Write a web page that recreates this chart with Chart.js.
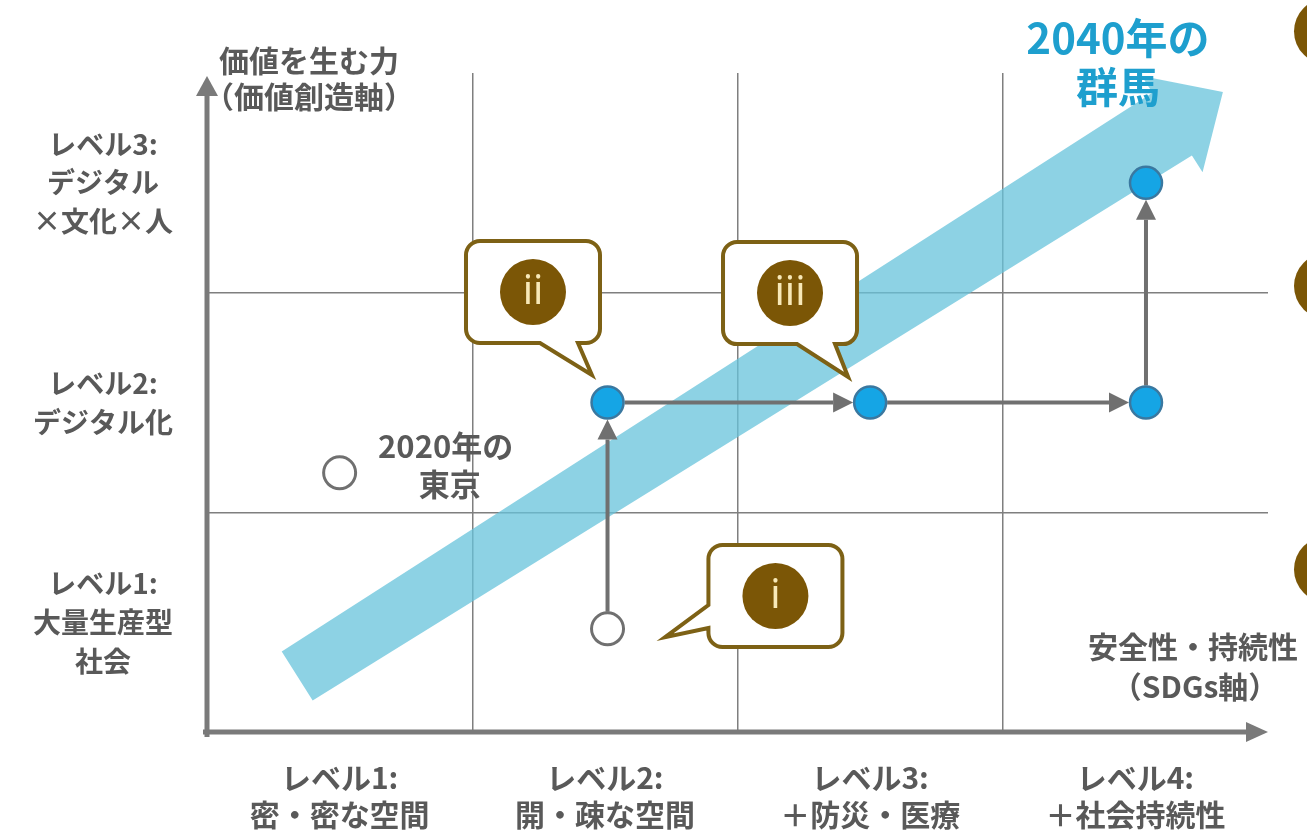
<!DOCTYPE html>
<html lang="ja">
<head>
<meta charset="utf-8">
<script src="https://cdn.jsdelivr.net/npm/chart.js@4.4.1/dist/chart.umd.min.js"></script>
<style>
html, body { margin: 0; padding: 0; background: #fff; }
</style>
</head>
<body>
<canvas id="chart" width="1307" height="835"></canvas>
<script>
var xLabels = [['レベル1:', '密・密な空間'], ['レベル2:', '開・疎な空間'], ['レベル3:', '＋防災・医療'], ['レベル4:', '＋社会持続性']];
var yLabels = [['レベル1:', '大量生産型', '社会'], ['レベル2:', 'デジタル化'], ['レベル3:', 'デジタル', '×文化×人']];

// white circles: 2020 Tokyo, and start of the route
var openX = [0.5, 1.51];
var openY = [1.18, 0.47];
// blue circles along the route
var blueX = [1.51, 2.5, 3.54, 3.54];
var blueY = [1.5, 1.5, 1.5, 2.5];
// route followed by the grey arrows
var routeX = [1.51, 1.51, 2.5, 3.54, 3.54];
var routeY = [0.47, 1.5, 1.5, 1.5, 2.5];
// big light blue arrow: tail and tip
var bandX = [0.34, 3.83];
var bandY = [0.255, 2.913];

// speech bubbles
var calloutText = ['i', 'ii', 'iii'];
var calloutX = [2.143, 1.229, 2.198];
var calloutY = [0.619, 2.003, 1.998];
var tailX = [1.727, 1.451, 2.417];
var tailY = [0.432, 1.625, 1.616];
var tailSide = ['left', 'bottom', 'bottom'];

// brown markers cut off at the right edge
var sideMarkY = [3.19, 2.03, 0.74];

var textGrey = '#595959';
var jpFont = '"Noto Sans CJK JP", "Noto Sans", sans-serif';

function arrowLine(ctx, x1, y1, x2, y2, w, headL, headW, color) {
    var a = Math.atan2(y2 - y1, x2 - x1);
    var bx = x2 - headL * Math.cos(a), by = y2 - headL * Math.sin(a);
    ctx.strokeStyle = color;
    ctx.lineWidth = w;
    ctx.beginPath();
    ctx.moveTo(x1, y1);
    ctx.lineTo(bx, by);
    ctx.stroke();
    ctx.fillStyle = color;
    ctx.beginPath();
    ctx.moveTo(x2, y2);
    ctx.lineTo(bx + headW * Math.sin(a), by - headW * Math.cos(a));
    ctx.lineTo(bx - headW * Math.sin(a), by + headW * Math.cos(a));
    ctx.closePath();
    ctx.fill();
}

function drawCallout(ctx, cx, cy, tx, ty, side, text) {
    var w = 134, h = 102, r = 14;
    var l = cx - w / 2, t = cy - h / 2, rt = cx + w / 2, b = cy + h / 2;
    ctx.beginPath();
    ctx.moveTo(l + r, t);
    ctx.lineTo(rt - r, t);
    ctx.arcTo(rt, t, rt, t + r, r);
    ctx.lineTo(rt, b - r);
    ctx.arcTo(rt, b, rt - r, b, r);
    if (side === 'bottom') {
        ctx.lineTo(cx + 45, b);
        ctx.lineTo(tx, ty);
        ctx.lineTo(cx + 7, b);
    }
    ctx.lineTo(l + r, b);
    ctx.arcTo(l, b, l, b - r, r);
    if (side === 'left') {
        ctx.lineTo(l, cy + 32);
        ctx.lineTo(tx, ty);
        ctx.lineTo(l, cy + 9);
    }
    ctx.lineTo(l, t + r);
    ctx.arcTo(l, t, l + r, t, r);
    ctx.closePath();
    ctx.fillStyle = '#ffffff';
    ctx.fill();
    ctx.strokeStyle = '#7d6115';
    ctx.lineWidth = 4;
    ctx.lineJoin = 'miter';
    ctx.stroke();

    ctx.fillStyle = '#7b5606';
    ctx.beginPath();
    ctx.arc(cx, cy, 33, 0, Math.PI * 2);
    ctx.fill();
    ctx.fillStyle = '#f8e9b8';
    ctx.font = '40px "Noto Sans", sans-serif';
    ctx.textAlign = 'center';
    ctx.textBaseline = 'middle';
    ctx.fillText(text, cx, cy + 1);
}

var decorPlugin = {
    id: 'decor',
    beforeDatasetsDraw: function(chart) {
        var ctx = chart.ctx, xs = chart.scales.x, ys = chart.scales.y, area = chart.chartArea;
        ctx.save();

        // big arrow
        var sx = xs.getPixelForValue(bandX[0]), sy = ys.getPixelForValue(bandY[0]);
        var tx = xs.getPixelForValue(bandX[1]), ty = ys.getPixelForValue(bandY[1]);
        var len = Math.hypot(tx - sx, ty - sy);
        var ux = (tx - sx) / len, uy = (ty - sy) / len;
        var nx = -uy, ny = ux;
        var hw0 = 29, hw1 = 37, hh = 57, hl = 60;
        var bx = tx - ux * hl, by = ty - uy * hl;
        ctx.fillStyle = 'rgba(103, 195, 219, 0.75)';
        ctx.beginPath();
        ctx.moveTo(sx + nx * hw0, sy + ny * hw0);
        ctx.lineTo(bx + nx * hw1, by + ny * hw1);
        ctx.lineTo(bx + nx * hh, by + ny * hh);
        ctx.lineTo(tx, ty);
        ctx.lineTo(bx - nx * hh, by - ny * hh);
        ctx.lineTo(bx - nx * hw1, by - ny * hw1);
        ctx.lineTo(sx - nx * hw0, sy - ny * hw0);
        ctx.closePath();
        ctx.fill();

        // route arrows
        for (var i = 0; i < routeX.length - 1; i++) {
            var x1 = xs.getPixelForValue(routeX[i]), y1 = ys.getPixelForValue(routeY[i]);
            var x2 = xs.getPixelForValue(routeX[i + 1]), y2 = ys.getPixelForValue(routeY[i + 1]);
            var d = Math.hypot(x2 - x1, y2 - y1);
            var ex = (x2 - x1) / d, ey = (y2 - y1) / d;
            arrowLine(ctx, x1 + ex * 17, y1 + ey * 17, x2 - ex * 17, y2 - ey * 17, 4, 20, 10, '#707070');
        }

        // axes with arrow heads
        arrowLine(ctx, area.left, area.bottom + 5, area.left, area.top + 3, 5, 20, 11, '#7a7a7a');
        arrowLine(ctx, area.left - 4, area.bottom, area.right, area.bottom, 5, 22, 10, '#7a7a7a');
        ctx.restore();
    },
    afterDatasetsDraw: function(chart) {
        var ctx = chart.ctx, xs = chart.scales.x, ys = chart.scales.y, area = chart.chartArea;
        ctx.save();
        for (var i = 0; i < calloutText.length; i++) {
            drawCallout(ctx,
                xs.getPixelForValue(calloutX[i]), ys.getPixelForValue(calloutY[i]),
                xs.getPixelForValue(tailX[i]), ys.getPixelForValue(tailY[i]),
                tailSide[i], calloutText[i]);
        }

        ctx.textAlign = 'center';
        ctx.textBaseline = 'middle';

        // axis titles
        ctx.fillStyle = textGrey;
        ctx.font = 'bold 30px ' + jpFont;
        ctx.fillText('価値を生む力', area.left + 102, area.top - 12);
        ctx.fillText('（価値創造軸）', area.left + 102, area.top + 24);
        ctx.fillText('安全性・持続性', area.right - 75, area.bottom - 85);
        ctx.fillText('（SDGs軸）', area.right - 73, area.bottom - 45);

        // 2020 Tokyo label next to its circle
        var px = xs.getPixelForValue(openX[0]), py = ys.getPixelForValue(openY[0]);
        ctx.font = 'bold 31px ' + jpFont;
        ctx.fillText('2020年の', px + 106, py - 27);
        ctx.fillText('東京', px + 110, py + 11);

        // 2040 Gunma label near the big arrow tip
        var tx = xs.getPixelForValue(bandX[1]), ty = ys.getPixelForValue(bandY[1]);
        ctx.fillStyle = '#1e9fce';
        ctx.font = 'bold 42px ' + jpFont;
        ctx.fillText('2040年の', tx - 105, ty - 54);
        ctx.fillText('群馬', tx - 105, ty - 5);

        // brown markers at the right edge
        ctx.fillStyle = '#7b5606';
        for (var j = 0; j < sideMarkY.length; j++) {
            ctx.beginPath();
            ctx.arc(chart.width + 20, ys.getPixelForValue(sideMarkY[j]), 33, 0, Math.PI * 2);
            ctx.fill();
        }
        ctx.restore();
    }
};

function gridColor(maxLine) {
    return function(c) {
        var v = c.tick ? c.tick.value : 0;
        if (Number.isInteger(v) && v >= 1 && v <= maxLine) return '#7f7f7f';
        return 'rgba(0,0,0,0)';
    };
}

var ctx = document.getElementById('chart').getContext('2d');
var chart = new Chart(ctx, {
    type: 'scatter',
    data: {
        datasets: [{
            data: openX.map(function(x, i) { return { x: x, y: openY[i] }; }),
            pointRadius: 16,
            pointBackgroundColor: '#ffffff',
            pointBorderColor: '#707070',
            pointBorderWidth: 3
        }, {
            data: blueX.map(function(x, i) { return { x: x, y: blueY[i] }; }),
            pointRadius: 16,
            pointBackgroundColor: '#15a5e5',
            pointBorderColor: '#3a78a0',
            pointBorderWidth: 2.5
        }]
    },
    options: {
        responsive: false,
        animation: false,
        layout: { padding: { top: 73, right: 39, left: 0, bottom: 0 } },
        plugins: {
            legend: { display: false },
            tooltip: { enabled: false }
        },
        scales: {
            x: {
                type: 'linear',
                min: 0,
                max: 4,
                afterFit: function(axis) { axis.height = 103; },
                border: { display: false },
                grid: { color: gridColor(3), lineWidth: 1.5, drawTicks: false },
                ticks: {
                    stepSize: 0.5,
                    autoSkip: false,
                    maxRotation: 0,
                    padding: 27,
                    color: textGrey,
                    font: { family: jpFont, size: 30, weight: 'bold', lineHeight: 1.23 },
                    callback: function(value) {
                        var i = value - 0.5;
                        return Number.isInteger(i) && xLabels[i] ? xLabels[i] : '';
                    }
                }
            },
            y: {
                type: 'linear',
                min: 0,
                max: 3,
                afterFit: function(axis) { axis.width = 207; },
                border: { display: false },
                grid: { color: gridColor(2), lineWidth: 1.5, drawTicks: false },
                ticks: {
                    stepSize: 0.5,
                    autoSkip: false,
                    crossAlign: 'center',
                    padding: 34,
                    color: textGrey,
                    font: { family: jpFont, size: 28, weight: 'bold', lineHeight: 1.39 },
                    callback: function(value) {
                        var i = value - 0.5;
                        return Number.isInteger(i) && yLabels[i] ? yLabels[i] : '';
                    }
                }
            }
        }
    },
    plugins: [decorPlugin]
});
</script>
</body>
</html>
